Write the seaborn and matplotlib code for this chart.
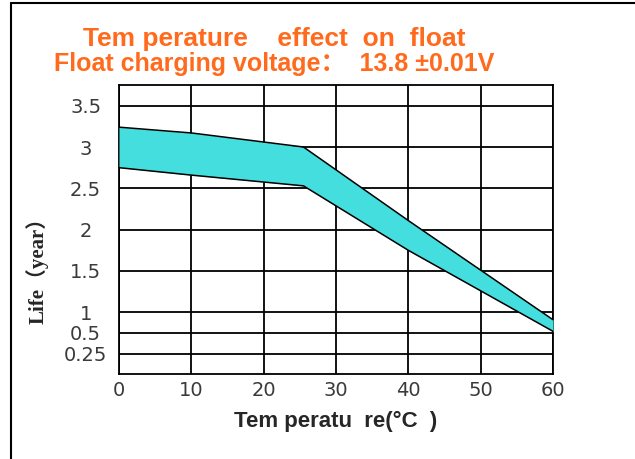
import numpy as np
import pandas as pd
import seaborn as sns
import matplotlib.pyplot as plt
from matplotlib.lines import Line2D

# values
temps = [0, 10, 25.5, 40, 60]
life_upper = [3.24, 3.17, 3.0, 2.11, 0.82]
life_lower = [2.75, 2.66, 2.53, 1.75, 0.54]
x_ticks = [0, 10, 20, 30, 40, 50, 60]
y_ticks = [0.25, 0.5, 1, 1.5, 2, 2.5, 3, 3.5]
y_tick_labels = ["0.25", "0.5", "1", "1.5", "2", "2.5", "3", "3.5"]

df = pd.DataFrame({"temp": temps, "upper": life_upper, "lower": life_lower})

sns.set_style("white")

# the life axis is squeezed below 1 year
def fwd(v):
    return np.interp(v, [0, 0.5, 1, 4], [0.25, 0.75, 1, 4])

def inv(p):
    return np.interp(p, [0.25, 0.75, 1, 4], [0, 0.5, 1, 4])

fig = plt.figure(figsize=(6.35, 4.59), dpi=100)
ax = fig.add_axes([0.1874, 0.1845, 0.6835, 0.6303])
ax.set_yscale("function", functions=(fwd, inv))

ax.fill_between(df["temp"], df["lower"], df["upper"], color="#45dede", zorder=3, linewidth=0)
sns.lineplot(data=df, x="temp", y="upper", color="black", linewidth=1.1, ax=ax, zorder=4)
sns.lineplot(data=df, x="temp", y="lower", color="black", linewidth=1.1, ax=ax, zorder=4)

ax.set_xlim(0, 60)
ax.set_ylim(0, 3.75)
ax.set_xticks(x_ticks)
ax.set_yticks(y_ticks)
ax.set_yticklabels(y_tick_labels)
ax.minorticks_off()
ax.grid(True, color="black", linewidth=1.3, zorder=1)
ax.set_axisbelow(True)
for s in ax.spines.values():
    s.set_color("black")
    s.set_linewidth(1.3)

ax.tick_params(axis="both", length=0, labelsize=14, labelcolor="#3a3a3a")
ax.tick_params(axis="x", pad=5)
ax.tick_params(axis="y", pad=24)
for lab in ax.get_yticklabels():
    lab.set_horizontalalignment("center")

ax.set_xlabel("")
ax.set_ylabel("")

fig.text(0.528, 1 - 421 / 459, "Tem peratu  re(°C  )", ha="center", va="center",
         fontsize=16, fontweight="bold", family=["Liberation Sans", "DejaVu Sans"])
fig.text(37 / 635, 1 - 265 / 459, "Life（year）", rotation=90, ha="center", va="center",
         fontsize=15, fontweight="bold", family=["Liberation Serif", "Noto Sans CJK SC"])

orange = "#ff6a1c"
fig.text(274 / 635, 1 - 39 / 459, "Tem perature    effect  on  float", ha="center", va="center",
         fontsize=19, fontweight="bold", color=orange, family=["Liberation Sans", "DejaVu Sans"])
fig.text(274 / 635, 1 - 64 / 459, "Float charging voltage：  13.8 ±0.01V", ha="center", va="center",
         fontsize=18, fontweight="bold", color=orange,
         family=["Liberation Sans", "Noto Sans CJK SC", "DejaVu Sans"])

# frame around the picture (top and left edges only)
fig.add_artist(Line2D([11 / 635, 11 / 635], [0, 1 - 3 / 459], transform=fig.transFigure,
                      color="black", linewidth=1.5))
fig.add_artist(Line2D([11 / 635, 1], [1 - 3 / 459, 1 - 3 / 459], transform=fig.transFigure,
                      color="black", linewidth=1.5))

fig.savefig("out.png", dpi=100)
